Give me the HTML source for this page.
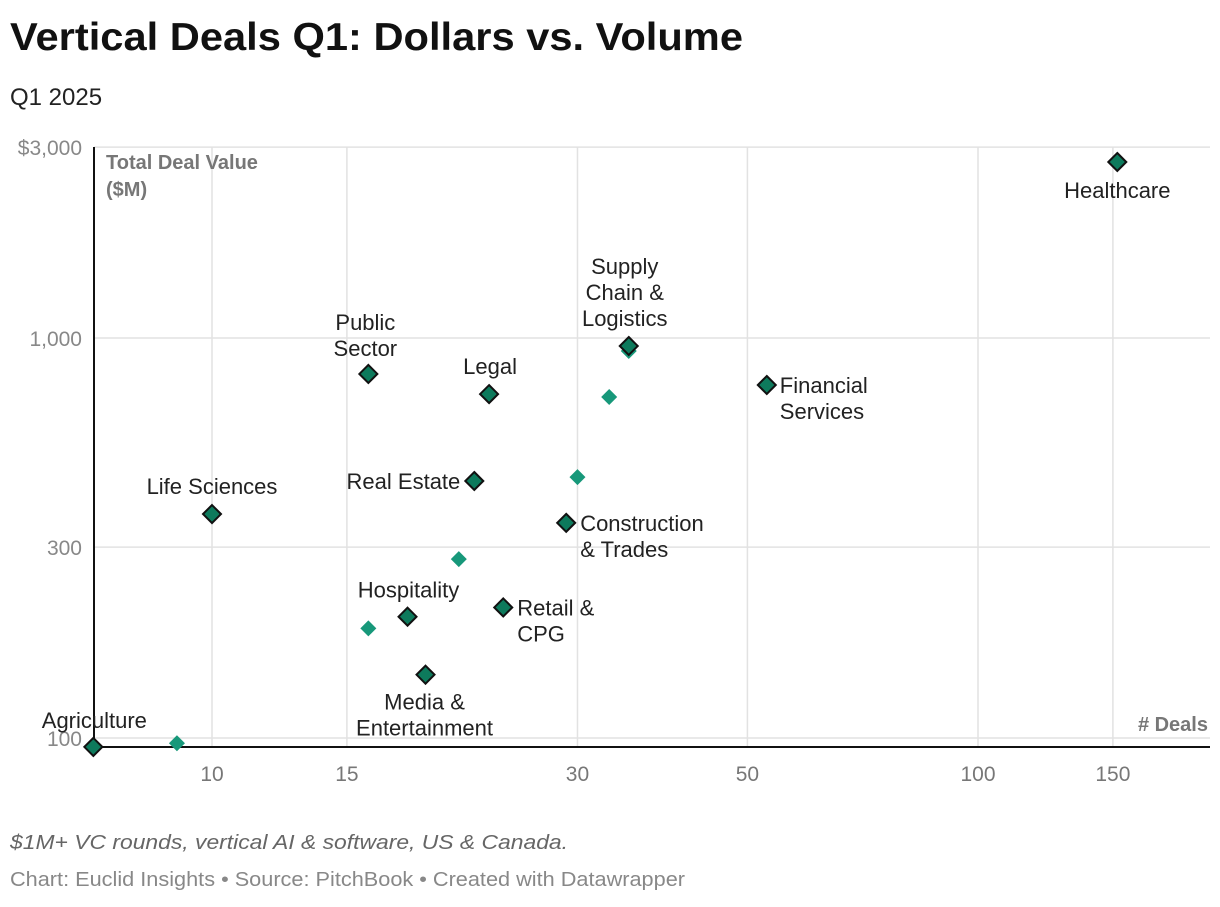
<!DOCTYPE html>
<html><head><meta charset="utf-8">
<style>
body{margin:0;background:#fff;font-family:"Liberation Sans",sans-serif;}
svg text{font-family:"Liberation Sans",sans-serif;}
</style></head>
<body>
<svg width="1220" height="902" viewBox="0 0 1220 902">
<text x="10" y="50" font-size="39" font-weight="bold" fill="#111" textLength="733" lengthAdjust="spacingAndGlyphs">Vertical Deals Q1: Dollars vs. Volume</text>
<text x="10" y="105" font-size="24" fill="#222">Q1 2025</text>
<g id="grid"></g>
<g id="marks"></g>
<text x="106" y="169" font-size="20" font-weight="bold" fill="#777">Total Deal Value</text>
<text x="106" y="196" font-size="20" font-weight="bold" fill="#777">($M)</text>
<text x="1208" y="731" font-size="20" font-weight="bold" fill="#777" text-anchor="end"># Deals</text>
<text x="10" y="849" font-size="20" font-style="italic" fill="#666" textLength="558" lengthAdjust="spacingAndGlyphs">$1M+ VC rounds, vertical AI &amp; software, US &amp; Canada.</text>
<text x="10" y="886" font-size="20" fill="#888" textLength="675" lengthAdjust="spacingAndGlyphs">Chart: Euclid Insights • Source: PitchBook • Created with Datawrapper</text>
</svg>
<script>
const names=["Healthcare","Supply Chain & Logistics","Financial Services","Public Sector","Legal","Real Estate","Life Sciences","Construction & Trades","Retail & CPG","Hospitality","Media & Entertainment","Agriculture"];
const deals=[152,35,53,16,23,22,10,29,24,18,19,7];
const values=[2754,955,763,813,724,439,363,345,212,201,144,95];
const prevDeals=[35,33,30,21,16,9];
const prevValues=[928,712,449,280,188,97];
const xTicks=[10,15,30,50,100,150];
const yTicks=[100,300,1000,3000];
const yTickLabels=["100","300","1,000","$3,000"];
const labelLines=[["Healthcare"],["Supply","Chain &","Logistics"],["Financial","Services"],["Public","Sector"],["Legal"],["Real Estate"],["Life Sciences"],["Construction","& Trades"],["Retail &","CPG"],["Hospitality"],["Media &","Entertainment"],["Agriculture"]];
const labelPos=[["middle",0,29],["middle",-4,-79],["start",13,1],["middle",-3,-51],["middle",1,-27],["end",-14,1],["middle",0,-27],["start",14,1],["start",14,1],["middle",1,-26],["middle",-1,28],["middle",1,-26]];
const NS="http://www.w3.org/2000/svg";
function X(v){return 978+(Math.log10(v)-2)*766;}
function Y(v){return 338-(Math.log10(v)-3)*400;}
function el(t,a,p){const e=document.createElementNS(NS,t);for(const k in a)e.setAttribute(k,a[k]);p.appendChild(e);return e;}
const g=document.getElementById('grid'),m=document.getElementById('marks');
xTicks.forEach(t=>{
 const l=el('line',{x1:X(t),x2:X(t),y1:147,y2:747,stroke:'#e2e2e2','stroke-width':1.5},g);
 
 
 const tx=el('text',{x:X(t),y:781,'font-size':21,fill:'#777','text-anchor':'middle'},g);
 tx.textContent=t;
 
 
});
yTicks.forEach((t,i)=>{
 const l=el('line',{x1:94,x2:1210,y1:Y(t),y2:Y(t),stroke:'#e2e2e2','stroke-width':1.5},g);
 
 
 const tx=el('text',{x:82,y:Y(t)+8,'font-size':21,fill:'#888','text-anchor':'end'},g);
 tx.textContent=yTickLabels[i];
 
 
});
const ya=el('line',{x1:94,x2:94,y1:147,y2:747,stroke:'#111','stroke-width':2},g);


const xa=el('line',{x1:94,x2:1210,y1:747,y2:747,stroke:'#111','stroke-width':2},g);


prevDeals.forEach((d,i)=>{
 const x=X(d),y=Y(prevValues[i]),s=8;
 const p=el('polygon',{points:`${x},${y-s} ${x+s},${y} ${x},${y+s} ${x-s},${y}`,fill:'#17987a'},m);
 
 
});
deals.forEach((d,i)=>{
 const x=X(d),y=Y(values[i]),s=9;
 const p=el('polygon',{points:`${x},${y-s} ${x+s},${y} ${x},${y+s} ${x-s},${y}`,fill:'#0d7a5c',stroke:'#111','stroke-width':2},m);
 
 
 const [anc,dx,dy]=labelPos[i];
 labelLines[i].forEach((ln,j)=>{
  const t=el('text',{x:x+dx,y:y+dy+j*26+7,'font-size':22,fill:'#222','text-anchor':anc},m);
  t.textContent=ln;
  
  
 });
});
</script>
</body></html>
